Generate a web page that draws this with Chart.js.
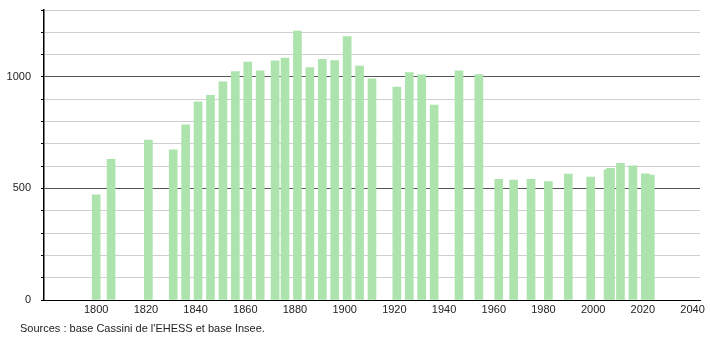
<!DOCTYPE html>
<html>
<head>
<meta charset="utf-8">
<script src="https://cdn.jsdelivr.net/npm/chart.js@4.4.1/dist/chart.umd.min.js"></script>
<style>
    html, body { margin: 0; padding: 0; background: #fff; }
    #wrap { position: relative; width: 710px; height: 340px; }
    #source {
        position: absolute; left: 20px; top: 322px;
        font: 11px "Liberation Sans", Arial, sans-serif; color: #222;
    }
</style>
</head>
<body>
<div id="wrap">
    <canvas id="popChart" width="710" height="340"></canvas>
    <div id="source">Sources : base Cassini de l'EHESS et base Insee.</div>
</div>
<script>
const years = [1800, 1806, 1821, 1831, 1836, 1841, 1846, 1851, 1856, 1861, 1866, 1872, 1876, 1881, 1886,
    1891, 1896, 1901, 1906, 1911, 1921, 1926, 1931, 1936, 1946, 1954, 1962, 1968, 1975, 1982, 1990,
    1999, 2006, 2007, 2011, 2016, 2021, 2023];
const population = [471, 631, 717, 673, 785, 888, 918, 978, 1024, 1067, 1027, 1072, 1085, 1206, 1042,
    1079, 1073, 1181, 1049, 991, 954, 1019, 1009, 874, 1027, 1010, 541, 538, 541, 531, 565,
    551, 583, 590, 613, 602, 566, 560];
const xTicks = [1800, 1820, 1840, 1860, 1880, 1900, 1920, 1940, 1960, 1980, 2000, 2020, 2040];
const yTicks = [0, 100, 200, 300, 400, 500, 600, 700, 800, 900, 1000, 1100, 1200, 1300];
const yLabels = [0, 500, 1000];

const font = { family: '"Liberation Sans", Arial, sans-serif', size: 11 };

const ctx = document.getElementById('popChart').getContext('2d');
new Chart(ctx, {
    type: 'bar',
    data: {
        datasets: [{
            data: years.map((y, i) => ({ x: y, y: population[i] })),
            backgroundColor: '#ade3ad',
            borderWidth: 0,
            barThickness: 8
        }]
    },
    options: {
        responsive: false,
        animation: false,
        layout: { padding: { left: 0, right: 10, top: 10, bottom: 0 } },
        plugins: { legend: { display: false }, tooltip: { enabled: false } },
        scales: {
            x: {
                type: 'linear',
                offset: false,
                min: 1779,
                max: 2043,
                afterBuildTicks: function (scale) {
                    scale.ticks = xTicks.map(v => ({ value: v }));
                },
                afterFit: function (scale) {
                    scale.height = 40;
                    scale.paddingLeft = 0;
                    scale.paddingRight = 0;
                },
                grid: { display: false, drawTicks: false, offset: false },
                border: { color: '#000', width: 1 },
                ticks: {
                    color: '#222', font: font, padding: 3, maxRotation: 0, autoSkip: false,
                    callback: function (value) {
                        return String(value);
                    }
                }
            },
            y: {
                min: 0,
                max: 1300,
                afterBuildTicks: function (scale) {
                    scale.ticks = yTicks.map(v => ({ value: v }));
                },
                afterFit: function (scale) {
                    // fixed axis width and no extra room above the plot
                    scale.width = 44;
                    scale.paddingTop = 0;
                    scale.paddingBottom = 0;
                },
                grid: {
                    drawTicks: true,
                    tickLength: 3,
                    tickColor: '#000',
                    color: function (c) {
                        return c.tick.value > 0 && c.tick.value % 500 === 0 ? '#555' : '#cfcfcf';
                    }
                },
                border: { color: '#000', width: 1.5 },
                ticks: {
                    color: '#222',
                    font: font,
                    padding: 10,
                    callback: function (value) {
                        return yLabels.includes(value) ? String(value) : '';
                    }
                }
            }
        }
    }
});
</script>
</body>
</html>
